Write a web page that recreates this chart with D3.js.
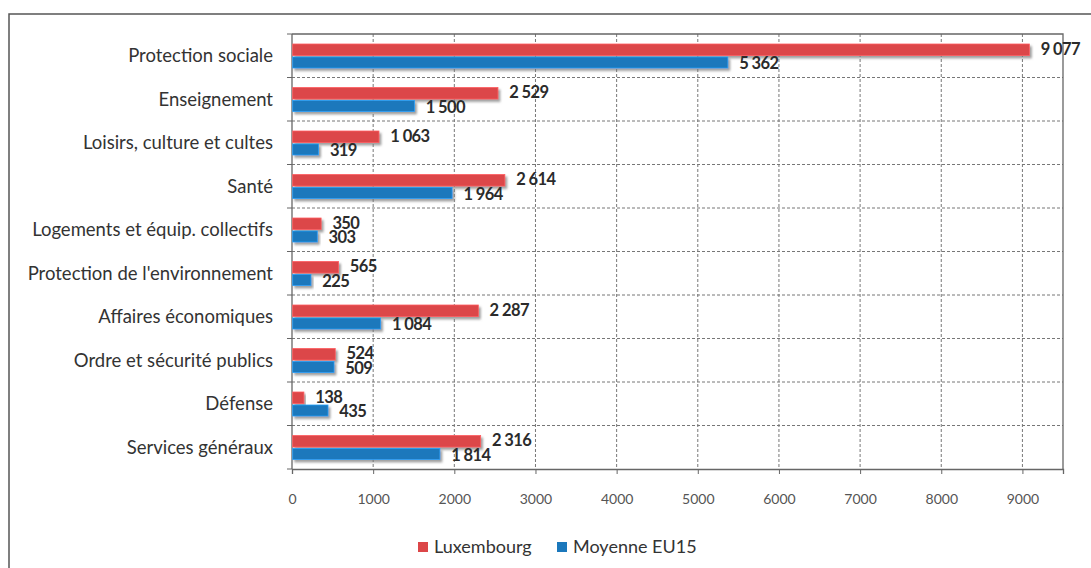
<!DOCTYPE html>
<html lang="fr">
<head>
<meta charset="utf-8">
<script src="https://cdn.jsdelivr.net/npm/d3@7"></script>
<style>
  html, body { margin: 0; padding: 0; background: #fff; }
  svg { display: block; }
  text { font-family: Lato, "Open Sans", sans-serif; }
</style>
</head>
<body>
<svg id="chart" width="1091" height="568"></svg>
<script>
// Dépenses publiques par fonction (EUR par habitant)
const categories = [
  "Protection sociale",
  "Enseignement",
  "Loisirs, culture et cultes",
  "Santé",
  "Logements et équip. collectifs",
  "Protection de l'environnement",
  "Affaires économiques",
  "Ordre et sécurité publics",
  "Défense",
  "Services généraux"
];
const luxembourg = [9077, 2529, 1063, 2614, 350, 565, 2287, 524, 138, 2316];
const moyenneEU15 = [5362, 1500, 319, 1964, 303, 225, 1084, 509, 435, 1814];
const xTicks = [0, 1000, 2000, 3000, 4000, 5000, 6000, 7000, 8000, 9000];
const seriesNames = ["Luxembourg", "Moyenne EU15"];
const seriesColors = ["#dc4648", "#1b78bc"];

const svg = d3.select("#chart");
const plot = { left: 292, right: 1063, top: 34, bottom: 469 };

const x = d3.scaleLinear().domain([0, 9500]).range([plot.left, plot.right]);
const y = d3.scaleBand().domain(categories).range([plot.top, plot.bottom]).padding(0);

const fr = d3.formatLocale({ decimal: ",", thousands: "\u00a0", grouping: [3], currency: ["", " €"] });
const fmt = fr.format(",d");

// drop shadow for the bars
const defs = svg.append("defs");
const f = defs.append("filter").attr("id", "shadow")
  .attr("x", "-5%").attr("y", "-40%").attr("width", "120%").attr("height", "200%");
f.append("feDropShadow").attr("dx", 2).attr("dy", 2.5).attr("stdDeviation", 1.2)
  .attr("flood-color", "#777").attr("flood-opacity", 0.7);

// outer frame (top and left)
svg.append("path")
  .attr("d", "M9,568 L9,14 L1091,14")
  .attr("fill", "none").attr("stroke", "#555").attr("stroke-width", 1.5);

// vertical dashed gridlines
svg.append("g").selectAll("line").data(xTicks.filter(d => d > 0)).join("line")
  .attr("x1", d => x(d)).attr("x2", d => x(d))
  .attr("y1", plot.top).attr("y2", plot.bottom)
  .attr("stroke", "#777").attr("stroke-width", 1).attr("stroke-dasharray", "3,2");

// horizontal dashed gridlines at category boundaries
const bounds = categories.slice(1).map(c => y(c));
svg.append("g").selectAll("line").data(bounds).join("line")
  .attr("x1", plot.left).attr("x2", plot.right)
  .attr("y1", d => d).attr("y2", d => d)
  .attr("stroke", "#777").attr("stroke-width", 1).attr("stroke-dasharray", "3,2");

// plot border (top and right)
svg.append("path")
  .attr("d", `M${plot.left},${plot.top} L${plot.right},${plot.top} L${plot.right},${plot.bottom}`)
  .attr("fill", "none").attr("stroke", "#666").attr("stroke-width", 1.3);

// x axis
const xAxis = svg.append("g").attr("transform", `translate(0,${plot.bottom})`)
  .call(d3.axisBottom(x).tickValues(xTicks).tickSize(5).tickPadding(20).tickFormat(d3.format("d")));
xAxis.select(".domain").attr("stroke", "#666").attr("stroke-width", 1.3);
xAxis.selectAll(".tick line").attr("stroke", "#666");
xAxis.selectAll(".tick text").attr("fill", "#555").attr("font-size", 14);

// y axis: ticks at band boundaries
const yAxis = svg.append("g").attr("transform", `translate(${plot.left},0)`);
yAxis.append("line").attr("x1", 0).attr("x2", 0).attr("y1", plot.top).attr("y2", plot.bottom)
  .attr("stroke", "#666").attr("stroke-width", 1.3);
yAxis.selectAll("line.tk").data([plot.top, ...bounds, plot.bottom]).join("line")
  .attr("class", "tk")
  .attr("x1", -5).attr("x2", 0).attr("y1", d => d).attr("y2", d => d)
  .attr("stroke", "#666").attr("stroke-width", 1);
yAxis.selectAll("text").data(categories).join("text")
  .attr("x", -19).attr("y", d => y(d) + y.bandwidth() / 2)
  .attr("dy", "0.35em").attr("text-anchor", "end")
  .attr("font-size", 18.5).attr("fill", "#333").text(d => d);

// bars
const series = [luxembourg, moyenneEU15];
const offsets = [10, 23];
const heights = [11.5, 11];
series.forEach((vals, s) => {
  const g = svg.append("g");
  g.selectAll("rect").data(vals).join("rect")
    .attr("x", x(0) + 0.7)
    .attr("y", (d, i) => y(categories[i]) + offsets[s])
    .attr("width", d => x(d) - x(0))
    .attr("height", heights[s])
    .attr("fill", seriesColors[s])
    .attr("stroke", d3.color(seriesColors[s]).brighter(0.8))
    .attr("stroke-width", 0.8)
    .attr("filter", "url(#shadow)");
});

// value labels (red slightly above its bar centre, blue slightly below)
const labelShift = [-1, 1];
series.forEach((vals, s) => {
  svg.append("g").selectAll("text").data(vals).join("text")
    .attr("x", d => x(d) + 12)
    .attr("y", (d, i) => y(categories[i]) + offsets[s] + heights[s] / 2 + labelShift[s])
    .attr("dy", "0.36em")
    .attr("font-size", 16.5).attr("font-weight", 700)
    .attr("fill", "#2b2b2b")
    .attr("letter-spacing", -0.6)
    .text(d => fmt(d));
});

// legend
const legend = svg.append("g");
const legendX = [418, 557];
seriesNames.forEach((name, i) => {
  legend.append("rect").attr("x", legendX[i]).attr("y", 542).attr("width", 10).attr("height", 10)
    .attr("fill", seriesColors[i]);
  legend.append("text").attr("x", legendX[i] + 16).attr("y", 547).attr("dy", "0.36em")
    .attr("font-size", 18).attr("fill", "#333").text(name);
});
</script>
</body>
</html>
